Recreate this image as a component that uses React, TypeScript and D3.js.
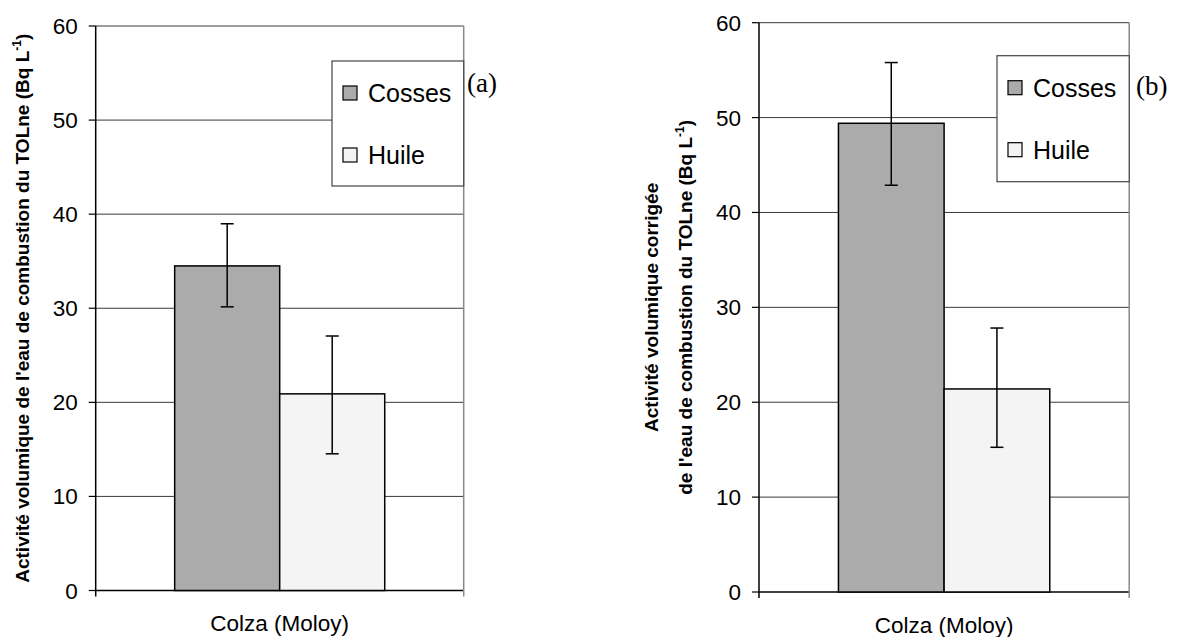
import React from "react";
import * as d3 from "d3";

// ---- data ----
const categories = ["Colza (Moloy)"];
const seriesNames = ["Cosses", "Huile"];
const seriesColors = ["#ababab", "#f4f4f4"];
const yTicks = [0, 10, 20, 30, 40, 50, 60];

// panel (a)
const valuesA = [34.5, 20.9];
const errLowA = [30.15, 14.53];
const errHighA = [38.98, 27.05];

// panel (b)
const valuesB = [49.4, 21.4];
const errLowB = [42.87, 15.25];
const errHighB = [55.8, 27.82];

const FONT = "'Liberation Sans', Arial, Helvetica, sans-serif";
const SERIF = "'Liberation Serif', 'Times New Roman', Times, serif";

type PanelProps = {
  left: number;
  right: number;
  yBottom: number;
  yTop: number;
  values: number[];
  lows: number[];
  highs: number[];
  legendLeft: number;
  legendTop: number;
  legendBottom: number;
  tag: string;
  tagX: number;
  tagY: number;
  titleLines: string[];
  titleX: number[];
  xLabelY: number;
};

function Panel(p: PanelProps) {
  const y = d3.scaleLinear().domain([0, 60]).range([p.yBottom, p.yTop]);
  const x0 = d3
    .scaleBand<string>()
    .domain(categories)
    .range([p.left, p.right])
    .paddingInner(0)
    .paddingOuter(0.376);
  const x1 = d3
    .scaleBand<string>()
    .domain(seriesNames)
    .range([0, x0.bandwidth()])
    .padding(0);
  const cat = categories[0];
  const gx = x0(cat) as number;
  const midY = (p.yBottom + p.yTop) / 2;
  const capHalf = 6.5;
  const rowYs = [p.legendTop + 32, p.legendTop + 94];

  return (
    <g>
      {/* gridlines */}
      {yTicks.map((t) => (
        <line
          key={"g" + t}
          x1={p.left}
          x2={p.right}
          y1={y(t)}
          y2={y(t)}
          stroke={t === 0 ? "#000" : "#3a3a3a"}
          strokeWidth={t === 0 ? 1.5 : 1}
        />
      ))}
      {/* bars */}
      {seriesNames.map((s, i) => (
        <rect
          key={"b" + s}
          x={gx + (x1(s) as number)}
          y={y(p.values[i])}
          width={x1.bandwidth()}
          height={y(0) - y(p.values[i])}
          fill={seriesColors[i]}
          stroke="#000"
          strokeWidth={1.5}
        />
      ))}
      {/* error bars */}
      {seriesNames.map((s, i) => {
        const cx = gx + (x1(s) as number) + x1.bandwidth() / 2;
        return (
          <g key={"e" + s} stroke="#000" strokeWidth={1.5}>
            <line x1={cx} x2={cx} y1={y(p.highs[i])} y2={y(p.lows[i])} />
            <line x1={cx - capHalf} x2={cx + capHalf} y1={y(p.highs[i])} y2={y(p.highs[i])} />
            <line x1={cx - capHalf} x2={cx + capHalf} y1={y(p.lows[i])} y2={y(p.lows[i])} />
          </g>
        );
      })}
      {/* right border */}
      <line x1={p.right} x2={p.right} y1={p.yTop} y2={p.yBottom + 6} stroke="#8a8a8a" strokeWidth={1.5} />
      {/* y axis */}
      <line x1={p.left} x2={p.left} y1={p.yTop} y2={p.yBottom + 6} stroke="#000" strokeWidth={1.5} />
      {yTicks.map((t) => (
        <g key={"t" + t}>
          <line x1={p.left - 7} x2={p.left} y1={y(t)} y2={y(t)} stroke="#000" strokeWidth={1.2} />
          <text
            x={p.left - 18}
            y={y(t) + 8}
            textAnchor="end"
            fontFamily={FONT}
            fontSize={22.5}
            fill="#000"
          >
            {t}
          </text>
        </g>
      ))}
      {/* x axis label */}
      <text
        x={gx + x0.bandwidth() / 2}
        y={p.xLabelY}
        textAnchor="middle"
        fontFamily={FONT}
        fontSize={22.5}
        fill="#000"
      >
        {cat}
      </text>
      {/* y title */}
      {p.titleLines.map((line, i) => {
        const isLast = i === p.titleLines.length - 1;
        return (
          <text
            key={"yt" + i}
            transform={`translate(${p.titleX[i]},${midY}) rotate(-90)`}
            textAnchor="middle"
            fontFamily={FONT}
            fontWeight="bold"
            fontSize={19}
            fill="#000"
          >
            {line}
            {isLast ? (
              <>
                <tspan dy={-8} fontSize={12}>-1</tspan>
                <tspan dy={8}>)</tspan>
              </>
            ) : null}
          </text>
        );
      })}
      {/* legend */}
      <rect
        x={p.legendLeft}
        y={p.legendTop}
        width={p.right - p.legendLeft}
        height={p.legendBottom - p.legendTop}
        fill="#fff"
        stroke="#444"
        strokeWidth={1.2}
      />
      {seriesNames.map((s, i) => (
        <g key={"l" + s}>
          <rect
            x={p.legendLeft + 11}
            y={rowYs[i] - 7}
            width={14}
            height={14}
            fill={seriesColors[i]}
            stroke="#000"
            strokeWidth={1.2}
          />
          <text
            x={p.legendLeft + 36}
            y={rowYs[i] + 9}
            fontFamily={FONT}
            fontSize={25}
            fill="#000"
          >
            {s}
          </text>
        </g>
      ))}
      {/* panel tag */}
      <text x={p.tagX} y={p.tagY} fontFamily={SERIF} fontSize={27} fill="#000">
        {p.tag}
      </text>
    </g>
  );
}

export default function App() {
  return (
    <svg
      width={1196}
      height={637}
      style={{ position: "absolute", left: 0, top: 0, background: "#fff" }}
    >
      <rect x={0} y={0} width={1196} height={637} fill="#fff" />
      <Panel
        left={95.7}
        right={463.7}
        yBottom={590.5}
        yTop={26}
        values={valuesA}
        lows={errLowA}
        highs={errHighA}
        legendLeft={332}
        legendTop={61}
        legendBottom={186}
        tag="(a)"
        tagX={467}
        tagY={92}
        titleLines={["Activité volumique de l'eau de combustion du TOLne (Bq L"]}
        titleX={[29]}
        xLabelY={631}
      />
      <Panel
        left={759}
        right={1129.2}
        yBottom={592}
        yTop={22.7}
        values={valuesB}
        lows={errLowB}
        highs={errHighB}
        legendLeft={997}
        legendTop={55.7}
        legendBottom={181.7}
        tag="(b)"
        tagX={1136}
        tagY={95}
        titleLines={["Activité volumique corrigée", "de l'eau de combustion du TOLne (Bq L"]}
        titleX={[658, 692]}
        xLabelY={633}
      />
    </svg>
  );
}
